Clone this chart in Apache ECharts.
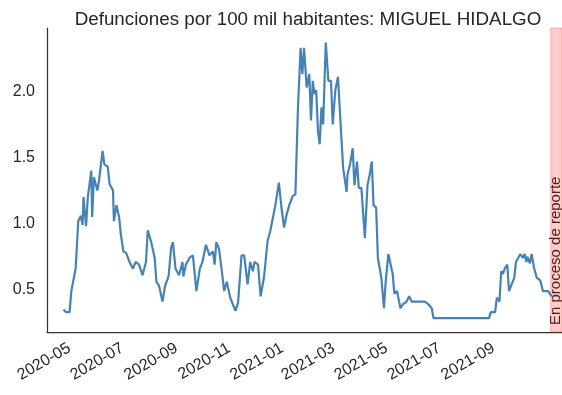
<!DOCTYPE html>
<html>
<head>
<meta charset="utf-8">
<script src="https://cdn.jsdelivr.net/npm/echarts@6/dist/echarts.min.js"></script>
<style>
  html, body { margin: 0; padding: 0; background: #fff; }
  #chart { width: 562px; height: 395px; }
</style>
</head>
<body>
<div id="chart"></div>
<script>
var titleText = 'Defunciones por 100 mil habitantes: MIGUEL HIDALGO';
var spanText = 'En proceso de reporte';

var dates = ['2020-04-24','2020-04-27','2020-05-01','2020-05-03','2020-05-05','2020-05-08','2020-05-10','2020-05-11','2020-05-14','2020-05-16',
  '2020-05-17','2020-05-20','2020-05-22','2020-05-26','2020-05-27','2020-05-29','2020-06-02','2020-06-04','2020-06-08','2020-06-10',
  '2020-06-14','2020-06-16','2020-06-20','2020-06-21','2020-06-24','2020-06-27','2020-06-29','2020-07-02','2020-07-05','2020-07-09',
  '2020-07-13','2020-07-16','2020-07-20','2020-07-24','2020-07-28','2020-07-30','2020-08-03','2020-08-07','2020-08-09','2020-08-12',
  '2020-08-16','2020-08-19','2020-08-23','2020-08-26','2020-08-28','2020-08-31','2020-09-04','2020-09-08','2020-09-09','2020-09-12',
  '2020-09-16','2020-09-20','2020-09-24','2020-09-28','2020-10-01','2020-10-05','2020-10-09','2020-10-13','2020-10-15','2020-10-17',
  '2020-10-20','2020-10-23','2020-10-26','2020-10-29','2020-11-02','2020-11-05','2020-11-08','2020-11-11','2020-11-15','2020-11-18',
  '2020-11-22','2020-11-25','2020-11-28','2020-11-30','2020-12-04','2020-12-07','2020-12-11','2020-12-15','2020-12-18','2020-12-21',
  '2020-12-24','2020-12-28','2020-12-31','2021-01-03','2021-01-06','2021-01-09','2021-01-13','2021-01-16','2021-01-19','2021-01-22',
  '2021-01-24','2021-01-26','2021-01-28','2021-01-29','2021-02-01','2021-02-03','2021-02-05','2021-02-07','2021-02-09','2021-02-11',
  '2021-02-13','2021-02-15','2021-02-17','2021-02-20','2021-02-23','2021-02-26','2021-02-28','2021-03-03','2021-03-06','2021-03-08',
  '2021-03-10','2021-03-12','2021-03-16','2021-03-17','2021-03-20','2021-03-23','2021-03-25','2021-03-28','2021-03-30','2021-04-02',
  '2021-04-05','2021-04-06','2021-04-09','2021-04-11','2021-04-14','2021-04-16','2021-04-19','2021-04-21','2021-04-25','2021-04-28',
  '2021-04-30','2021-05-03','2021-05-05','2021-05-08','2021-05-10','2021-05-13','2021-05-17','2021-05-20','2021-05-24','2021-05-27',
  '2021-05-30','2021-06-14','2021-06-18','2021-06-22','2021-06-24','2021-08-27','2021-08-29','2021-09-03','2021-09-05','2021-09-08',
  '2021-09-10','2021-09-12','2021-09-14','2021-09-17','2021-09-19','2021-09-22','2021-09-25','2021-09-27','2021-10-02','2021-10-05',
  '2021-10-07','2021-10-09','2021-10-10','2021-10-13','2021-10-15','2021-10-18','2021-10-21','2021-10-25','2021-10-28','2021-11-03',
  '2021-11-07'];

var deaths = [0.35,0.33,0.33,0.49,0.49,0.66,0.65,1.02,1.06,0.99,
  1.20,0.98,1.20,1.40,1.05,1.35,1.25,1.33,1.55,1.45,
  1.43,1.30,1.25,1.02,1.14,1.05,0.92,0.79,0.78,0.71,
  0.66,0.71,0.69,0.61,0.71,0.95,0.86,0.74,0.56,0.53,
  0.41,0.53,0.60,0.82,0.86,0.66,0.61,0.71,0.60,0.69,
  0.74,0.76,0.49,0.66,0.71,0.84,0.76,0.79,0.69,0.86,
  0.81,0.66,0.49,0.56,0.44,0.39,0.34,0.40,0.76,0.76,
  0.54,0.71,0.64,0.71,0.69,0.45,0.60,0.87,0.94,1.04,
  1.14,1.31,1.12,0.97,1.07,1.14,1.21,1.22,1.88,2.33,
  2.13,2.33,2.13,2.03,2.13,1.78,2.08,1.98,2.01,1.70,
  1.60,1.88,1.75,2.37,2.08,2.08,1.75,2.01,2.11,1.88,
  1.65,1.42,1.24,1.37,1.45,1.57,1.29,1.47,1.27,1.27,
  0.99,0.89,1.29,1.35,1.47,1.14,1.12,0.74,0.59,0.36,
  0.56,0.77,0.77,0.62,0.47,0.49,0.36,0.39,0.41,0.45,
  0.41,0.41,0.39,0.36,0.285,0.285,0.33,0.33,0.44,0.41,
  0.64,0.62,0.66,0.69,0.49,0.54,0.59,0.71,0.77,0.74,
  0.77,0.71,0.75,0.70,0.77,0.66,0.59,0.57,0.49,0.49,
  0.45];

var xTicks = ['2020-05-01','2020-07-01','2020-09-01','2020-11-01','2021-01-01','2021-03-01','2021-05-01','2021-07-01','2021-09-01'];
var yTicks = [0.5, 1.0, 1.5, 2.0];
var xRange = ['2020-04-05', '2021-11-19'];
var yRange = [0.18, 2.48];
var reportSpan = ['2021-11-06', '2021-11-19'];

var textColor = '#262626';
var font = 'Liberation Sans';

function ts(d) { return +echarts.time.parse(d); }

var myChart = echarts.init(document.getElementById('chart'));

var lineData = dates.map(function (d, i) { return [ts(d), deaths[i]]; });

var option = {
    animation: false,
    title: {
        text: titleText,
        left: 303,
        textAlign: 'center',
        top: 5,
        textStyle: { color: textColor, fontFamily: font, fontSize: 18.8, fontWeight: 'normal' }
    },
    grid: { left: 47, right: 0, top: 28, bottom: 63, containLabel: false },
    xAxis: {
        type: 'value',
        min: ts(xRange[0]),
        max: ts(xRange[1]),
        axisLine: { show: true, lineStyle: { color: '#333', width: 1.25 } },
        axisTick: { show: false },
        splitLine: { show: false },
        axisLabel: {
            customValues: xTicks.map(ts),
            rotate: 30,
            margin: 15,
            color: textColor,
            fontFamily: font,
            fontSize: 16,
            formatter: function (v) { return echarts.time.format(v, '{yyyy}-{MM}', false); }
        }
    },
    yAxis: {
        type: 'value',
        min: yRange[0],
        max: yRange[1],
        axisLine: { show: true, lineStyle: { color: '#333', width: 1.25 } },
        axisTick: { show: false },
        splitLine: { show: false },
        axisLabel: {
            customValues: yTicks,
            margin: 12,
            color: textColor,
            fontFamily: font,
            fontSize: 16,
            formatter: function (v) { return v.toFixed(1); }
        }
    },
    graphic: [{
        type: 'text',
        left: 548,
        bottom: 70,
        rotation: Math.PI / 2,
        style: { text: spanText, fill: textColor, font: '15px "Liberation Sans"' }
    }],
    series: [{
        type: 'line',
        data: lineData,
        symbol: 'none',
        lineStyle: { color: '#4682b4', width: 2.2 },
        markArea: {
            silent: true,
            itemStyle: { color: 'rgba(255,0,0,0.2)', borderColor: 'rgba(255,0,0,0.25)', borderWidth: 1 },
            data: [[{ xAxis: ts(reportSpan[0]) }, { xAxis: ts(reportSpan[1]) }]]
        }
    }]
};
myChart.setOption(option);
window.onresize = myChart.resize;
</script>
</body>
</html>
